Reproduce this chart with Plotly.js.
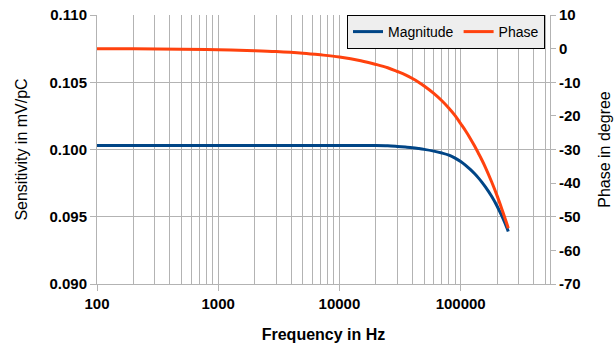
<!DOCTYPE html>
<html>
<head>
<meta charset="utf-8">
<script src="https://cdn.plot.ly/plotly-3.0.1.min.js"></script>
<style>html,body{margin:0;padding:0;background:#fff;}#chart{width:614px;height:344px;}</style>
</head>
<body>
<div id="chart"></div>
<script>
const frequency = [100, 200, 500, 1000, 2000, 3000, 5000, 7000, 10000, 15000, 20000, 25000, 30000, 35000, 40000, 45000, 50000, 60000, 70000, 80000, 90000, 100000, 110000, 120000, 130000, 140000, 150000, 160000, 180000, 200000, 220000, 240000, 247000];
const magnitude = [0.1003, 0.1003, 0.1003, 0.1003, 0.1003, 0.1003, 0.1003, 0.1003, 0.1003, 0.1003, 0.1003, 0.10028, 0.10023, 0.10018, 0.10013, 0.10007, 0.10001, 0.09988, 0.09974, 0.09958, 0.09936, 0.09911, 0.09882, 0.09852, 0.09821, 0.09789, 0.09756, 0.09722, 0.09652, 0.09578, 0.095, 0.0942, 0.0939];
const phase = [0, -0.05, -0.15, -0.3, -0.6, -0.85, -1.35, -1.85, -2.5, -3.6, -4.7, -5.7, -6.8, -7.8, -8.9, -10.0, -11.1, -13.3, -15.5, -17.7, -19.9, -22.3, -24.5, -26.7, -28.9, -31.1, -33.2, -35.3, -39.6, -43.8, -48.0, -52.0, -53.4];
const xTickVals = [100, 1000, 10000, 100000];
const xTickText = ["100", "1000", "10000", "100000"];
const phaseTickVals = [10, 0, -10, -20, -30, -40, -50, -60, -70];
const phaseTickText = ["10", "0", "-10", "-20", "-30", "-40", "-50", "-60", "-70"];

const grid = '#b3b3b3';
const fam = 'Liberation Sans, Arial, sans-serif';
const tickFont = {family: fam, size: 15, color: '#000', weight: 'bold'};

const data = [
  {x: frequency, y: magnitude, name: 'Magnitude', type: 'scatter', mode: 'lines',
   line: {color: '#004586', width: 3, shape: 'spline', smoothing: 1}, yaxis: 'y'},
  {x: frequency, y: phase, name: 'Phase', type: 'scatter', mode: 'lines',
   line: {color: '#ff420e', width: 3, shape: 'spline', smoothing: 1}, yaxis: 'y2'}
];

const layout = {
  width: 614, height: 344,
  margin: {l: 97, r: 64, t: 15, b: 60},
  paper_bgcolor: '#fff', plot_bgcolor: '#fff',
  showlegend: true,
  legend: {
    orientation: 'h', x: 0.989, xanchor: 'right', y: 1, yanchor: 'top',
    bgcolor: '#eeeeee', bordercolor: '#000', borderwidth: 1,
    font: {family: fam, size: 14, color: '#000'},
    itemwidth: 30, tracegroupgap: 0
  },
  xaxis: {
    type: 'log', range: [2, 5.737],
    tickvals: xTickVals, ticktext: xTickText,
    tickfont: tickFont,
    showgrid: true, gridcolor: grid, gridwidth: 1,
    showline: true, linecolor: grid, linewidth: 1,
    ticks: 'outside', ticklen: 6, tickcolor: grid,
    minor: {dtick: 'D1', showgrid: true, gridcolor: grid, gridwidth: 1, ticks: ''},
    zeroline: false,
    title: {text: 'Frequency in Hz', font: {family: fam, size: 16, color: '#000', weight: 'bold'}, standoff: 17}
  },
  yaxis: {
    range: [0.09, 0.11], dtick: 0.005, tick0: 0.09, tickformat: '.3f',
    tickfont: tickFont,
    showgrid: true, gridcolor: grid, gridwidth: 1,
    showline: true, linecolor: grid, linewidth: 1,
    ticks: 'outside', ticklen: 6, tickcolor: grid,
    zeroline: false,
    title: {text: 'Sensitivity in mV/pC', font: {family: fam, size: 16, color: '#000'}, standoff: 17}
  },
  yaxis2: {
    overlaying: 'y', side: 'right',
    range: [-70, 10],
    tickvals: phaseTickVals, ticktext: phaseTickText,
    tickfont: tickFont,
    showgrid: false,
    showline: true, linecolor: grid, linewidth: 1,
    ticks: 'outside', ticklen: 5, tickcolor: grid,
    zeroline: false,
    title: {text: 'Phase in degree', font: {family: fam, size: 16, color: '#000'}, standoff: 19}
  }
};

Plotly.newPlot('chart', data, layout, {displayModeBar: false, staticPlot: true});
</script>
</body>
</html>
